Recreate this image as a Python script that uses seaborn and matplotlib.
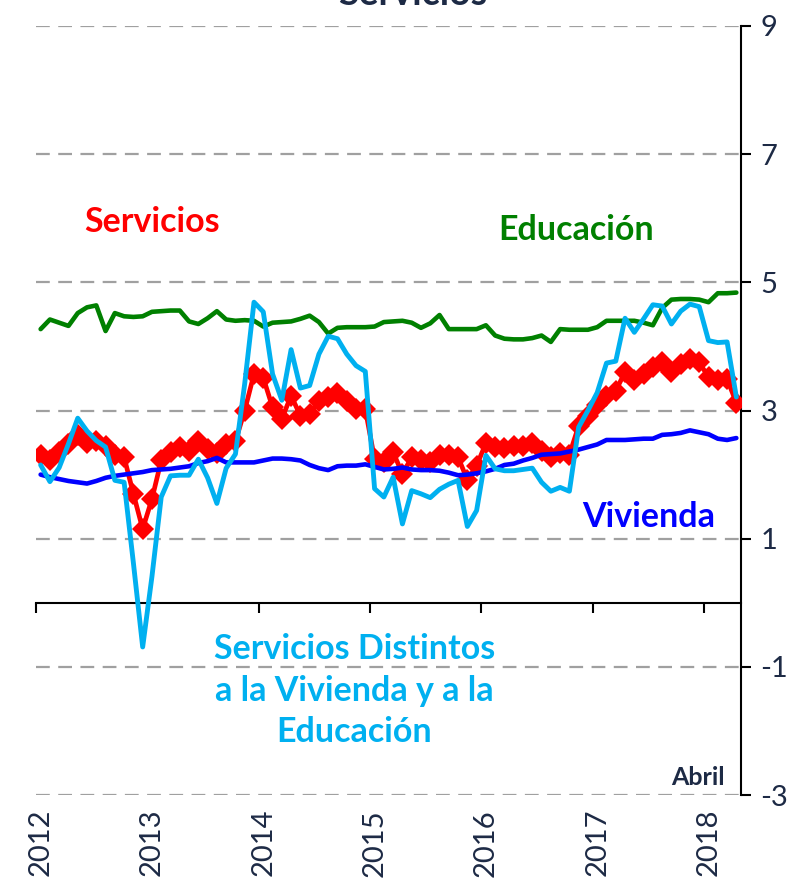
import numpy as np
import pandas as pd
import matplotlib
matplotlib.use("Agg")
import matplotlib.pyplot as plt
import seaborn as sns

# ---------------- data (monthly, Jan 2012 - Apr 2018) ----------------
meses = pd.period_range("2012-01", "2018-04", freq="M").astype(str).tolist()

servicios = [2.30, 2.22, 2.35, 2.48, 2.62, 2.49, 2.53, 2.45, 2.30, 2.27,
             1.70, 1.15, 1.62, 2.22, 2.35, 2.43, 2.37, 2.53, 2.40, 2.33,
             2.48, 2.52, 3.00, 3.57, 3.51, 3.05, 2.87, 3.23, 2.92, 2.95,
             3.15, 3.21, 3.28, 3.15, 3.02, 3.02, 2.24, 2.19, 2.35, 2.01,
             2.27, 2.22, 2.20, 2.31, 2.30, 2.27, 1.92, 2.14, 2.49, 2.43,
             2.42, 2.45, 2.45, 2.49, 2.37, 2.27, 2.34, 2.31, 2.76, 2.92,
             3.08, 3.23, 3.31, 3.60, 3.47, 3.57, 3.68, 3.75, 3.60, 3.73,
             3.80, 3.75, 3.52, 3.47, 3.49, 3.12]

vivienda = [2.00, 1.96, 1.93, 1.90, 1.88, 1.86, 1.90, 1.95, 1.98, 2.00,
            2.02, 2.04, 2.07, 2.08, 2.09, 2.11, 2.13, 2.18, 2.21, 2.26,
            2.19, 2.19, 2.19, 2.19, 2.22, 2.25, 2.25, 2.24, 2.22, 2.15,
            2.10, 2.07, 2.13, 2.14, 2.14, 2.16, 2.12, 2.08, 2.09, 2.11,
            2.08, 2.07, 2.07, 2.06, 2.03, 1.99, 2.00, 2.02, 2.05, 2.09,
            2.15, 2.17, 2.22, 2.26, 2.31, 2.32, 2.33, 2.36, 2.39, 2.43,
            2.47, 2.54, 2.54, 2.54, 2.55, 2.56, 2.56, 2.62, 2.63, 2.65,
            2.69, 2.66, 2.63, 2.56, 2.54, 2.57]

educacion = [4.27, 4.42, 4.37, 4.32, 4.52, 4.61, 4.64, 4.24, 4.52, 4.47,
             4.46, 4.47, 4.54, 4.55, 4.56, 4.56, 4.39, 4.35, 4.44, 4.55,
             4.42, 4.40, 4.41, 4.40, 4.31, 4.37, 4.38, 4.39, 4.43, 4.48,
             4.38, 4.20, 4.29, 4.30, 4.30, 4.30, 4.31, 4.38, 4.39, 4.40,
             4.37, 4.29, 4.36, 4.49, 4.27, 4.27, 4.27, 4.27, 4.33, 4.17,
             4.12, 4.11, 4.11, 4.13, 4.17, 4.07, 4.27, 4.26, 4.26, 4.26,
             4.30, 4.40, 4.40, 4.40, 4.40, 4.37, 4.33, 4.60, 4.73, 4.74,
             4.74, 4.73, 4.69, 4.83, 4.83, 4.84]

distintos = [2.15, 1.89, 2.11, 2.48, 2.88, 2.68, 2.53, 2.43, 1.91, 1.88,
             0.62, -0.69, 0.41, 1.65, 1.98, 1.99, 1.99, 2.24, 1.95, 1.55,
             2.10, 2.32, 3.42, 4.69, 4.54, 3.57, 3.16, 3.95, 3.35, 3.39,
             3.88, 4.16, 4.12, 3.88, 3.70, 3.61, 1.78, 1.65, 1.96, 1.23,
             1.75, 1.70, 1.64, 1.77, 1.85, 1.91, 1.19, 1.44, 2.30, 2.09,
             2.06, 2.06, 2.08, 2.10, 1.88, 1.74, 1.80, 1.74, 2.74, 3.00,
             3.28, 3.74, 3.77, 4.44, 4.22, 4.43, 4.65, 4.63, 4.35, 4.55,
             4.66, 4.62, 4.09, 4.06, 4.07, 3.21]

anios = ["2012", "2013", "2014", "2015", "2016", "2017", "2018"]
y_ticks = [9, 7, 5, 3, 1, -1, -3]

df = pd.DataFrame({
    "mes": meses,
    "pos": np.arange(len(meses)) + 0.5,
    "Servicios": servicios,
    "Vivienda": vivienda,
    "Educación": educacion,
    "Distintos": distintos,
})

# ---------------- style ----------------
sns.set_theme(style="white")
plt.rcParams["font.family"] = ["Lato", "DejaVu Sans"]
dark = "#1d2a45"

W, H = 798, 884
fig = plt.figure(figsize=(W / 100, H / 100), dpi=100)
left, right, top, bottom = 36, 741, 26, 795
ax = fig.add_axes([left / W, 1 - bottom / H, (right - left) / W, (bottom - top) / H])

# gridlines
for v in y_ticks:
    ax.axhline(v, color="#a0a0a0", lw=1.6, ls=(0, (6.2, 3.8)), zorder=0)

sns.lineplot(data=df, x="pos", y="Servicios", ax=ax, color="#ff0000", lw=3.4,
             marker="D", markersize=11, markeredgewidth=0, zorder=3)
sns.lineplot(data=df, x="pos", y="Vivienda", ax=ax, color="#0000ff", lw=3.3, zorder=4)
sns.lineplot(data=df, x="pos", y="Educación", ax=ax, color="#008000", lw=3.3, zorder=5)
sns.lineplot(data=df, x="pos", y="Distintos", ax=ax, color="#00b0f0", lw=3.5, zorder=6)

ax.set_xlim(0, 76)
ax.set_ylim(-3, 9)
ax.set_xlabel("")
ax.set_ylabel("")

# spines
for s in ["left", "top"]:
    ax.spines[s].set_visible(False)
ax.spines["right"].set_color("black")
ax.spines["right"].set_linewidth(1.5)
ax.spines["right"].set_bounds(-3, 9)
ax.spines["bottom"].set_position(("data", 0))
ax.spines["bottom"].set_color("black")
ax.spines["bottom"].set_linewidth(1.5)

ax.yaxis.tick_right()
ax.set_yticks(y_ticks)
ax.set_yticklabels([str(t) for t in y_ticks])
ax.tick_params(axis="y", direction="out", length=7, width=1.5, color="black",
               labelsize=21, labelcolor=dark, pad=7, right=True, left=False)

year_pos = [12 * i for i in range(len(anios))]
ax.set_xticks(year_pos)
ax.set_xticklabels([""] * len(anios))
ax.tick_params(axis="x", direction="out", length=7, width=1.5, color="black", bottom=True)

sec = ax.secondary_xaxis(0.0)
sec.set_xticks([p + 0.5 for p in year_pos])
sec.set_xticklabels(anios, rotation=90)
sec.tick_params(axis="x", length=0, pad=10, labelsize=21, labelcolor=dark)
sec.spines["bottom"].set_visible(False)

# annotations
fs = 24.5
ax.text(12.5, 5.94, "Servicios", color="#ff0000", fontsize=fs, fontweight="bold",
        ha="center", va="center")
ax.text(58.2, 5.82, "Educación", color="#008000", fontsize=fs, fontweight="bold",
        ha="center", va="center")
ax.text(66.0, 1.34, "Vivienda", color="#0000ff", fontsize=fs, fontweight="bold",
        ha="center", va="center")
ax.text(34.3, -1.37, "Servicios Distintos\na la Vivienda y a la\nEducación",
        color="#00b0f0", fontsize=fs, fontweight="bold", ha="center", va="center",
        linespacing=1.38)
ax.text(71.4, -2.72, "Abril", color=dark, fontsize=18, fontweight="bold",
        ha="center", va="center")

fig.text(413 / W, 1 - 5 / H, "Servicios", color=dark, fontsize=27, fontweight="bold",
         ha="center", va="baseline")

fig.savefig("out.png", dpi=100)
